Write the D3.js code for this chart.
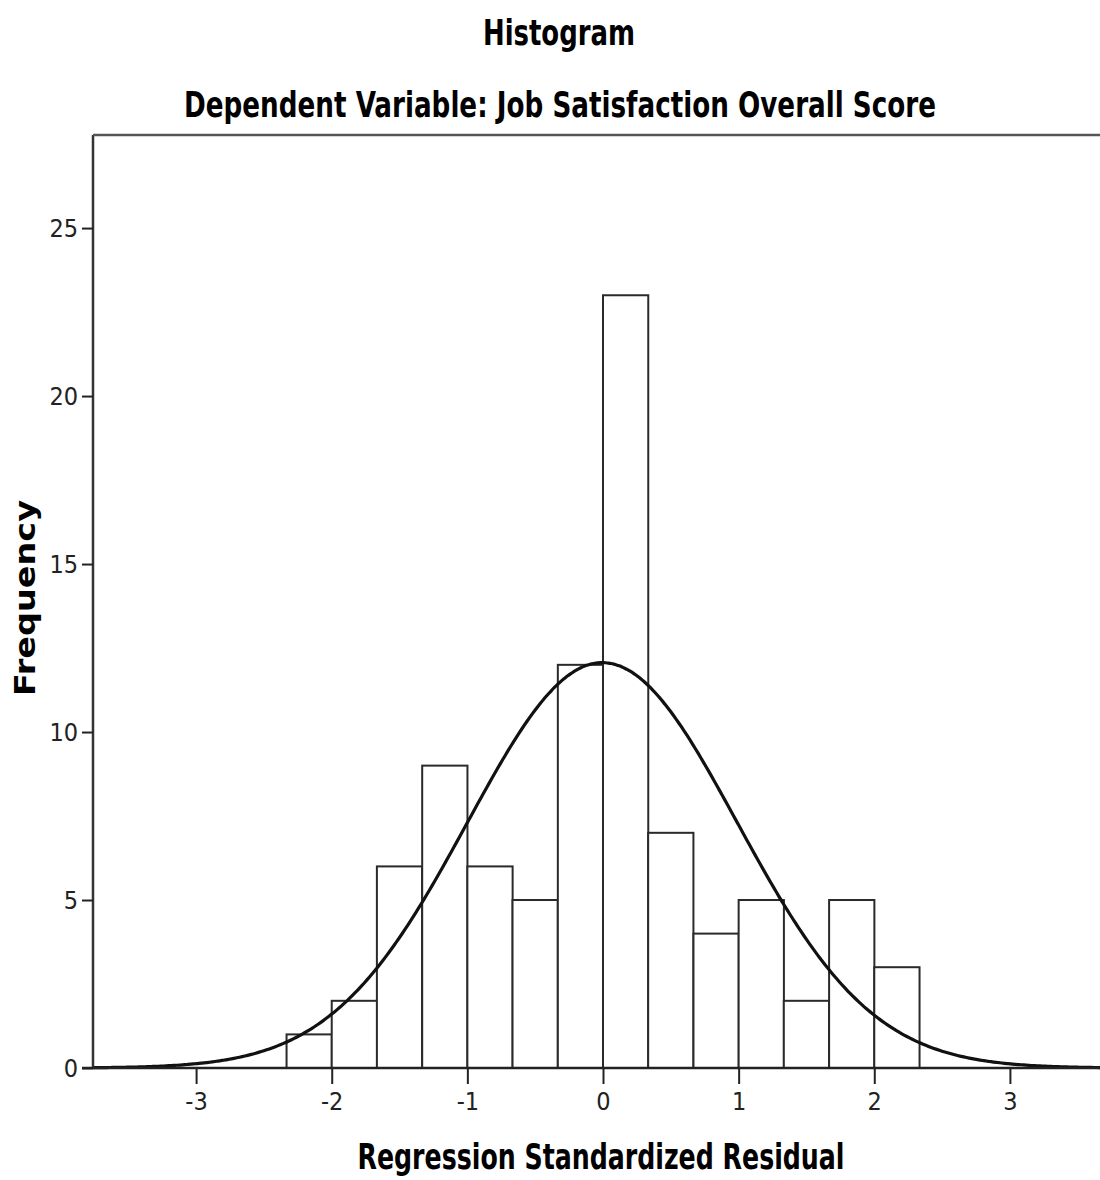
<!DOCTYPE html>
<html><head><meta charset="utf-8">
<script src="https://cdn.jsdelivr.net/npm/d3@7"></script>
<style>
html,body{margin:0;padding:0;background:#fff;overflow:hidden}
svg{display:block}
</style></head>
<body>
<svg id="chart" width="1100" height="1180"></svg>
<script>
// ---- data ----
const binStarts = [-2.333,-2.0,-1.667,-1.333,-1.0,-0.667,-0.333,0.0,0.333,0.667,1.0,1.333,1.667,2.0];
const binWidth = 0.3337;
const frequencies = [1,2,6,9,6,5,12,23,7,4,5,2,5,3];
const xTicks = [-3,-2,-1,0,1,2,3];
const yTicks = [0,5,10,15,20,25];
// fitted normal curve parameters (as reported by the chart)
const curveMean = -0.005;
const curveSd = 0.993;
const curveN = 90;

const titleText = "Histogram";
const subtitleText = "Dependent Variable: Job Satisfaction Overall Score";
const xTitle = "Regression Standardized Residual";
const yTitle = "Frequency";

// ---- layout ----
const svg = d3.select("#chart");
const pLeft = 93, pRight = 1113, pTop = 135, pBottom = 1068;
const x = d3.scaleLinear().domain([-3.76, 3.76]).range([pLeft, pRight]);
const y = d3.scaleLinear().domain([0, 27.77]).range([pBottom, pTop]);
const condensed = "'Liberation Sans Narrow','DejaVu Sans Condensed','Arial Narrow',sans-serif";

// titles
svg.append("text").attr("x", 559).attr("y", 45).attr("text-anchor","middle")
  .attr("font-family", condensed).attr("font-weight","bold").attr("font-size", 35)
  .attr("textLength", 152).attr("lengthAdjust","spacingAndGlyphs")
  .text(titleText);
svg.append("text").attr("x", 560).attr("y", 117).attr("text-anchor","middle")
  .attr("font-family", condensed).attr("font-weight","bold").attr("font-size", 35)
  .attr("textLength", 752).attr("lengthAdjust","spacingAndGlyphs")
  .text(subtitleText);

// bars
svg.append("g").selectAll("rect").data(frequencies).join("rect")
  .attr("x", (d,i) => x(binStarts[i]))
  .attr("width", (d,i) => x(binStarts[i] + binWidth) - x(binStarts[i]))
  .attr("y", d => y(d))
  .attr("height", d => y(0) - y(d))
  .attr("fill", "#fff").attr("stroke", "#2a2a2a").attr("stroke-width", 2);

// normal curve
const curvePts = d3.range(-3.76, 3.7601, 0.02).map(v => {
  const dens = Math.exp(-0.5 * Math.pow((v - curveMean)/curveSd, 2)) / (curveSd * Math.sqrt(2*Math.PI));
  return [v, dens * curveN * binWidth];
});
svg.append("path").datum(curvePts)
  .attr("d", d3.line().x(d => x(d[0])).y(d => y(d[1])).curve(d3.curveBasis))
  .attr("fill","none").attr("stroke","#111").attr("stroke-width",3.2);

// frame: left axis and top line
svg.append("line").attr("x1", pLeft).attr("x2", pLeft).attr("y1", pTop).attr("y2", pBottom)
  .attr("stroke","#333").attr("stroke-width",2.5);
svg.append("line").attr("x1", pLeft).attr("x2", pRight).attr("y1", pTop).attr("y2", pTop)
  .attr("stroke","#555").attr("stroke-width",2.5);

// x axis
const xAxis = d3.axisBottom(x).tickValues(xTicks).tickSize(16).tickSizeOuter(0).tickPadding(8)
  .tickFormat(d3.format("d"));
const gx = svg.append("g").attr("transform", `translate(0,${pBottom})`).call(xAxis);
gx.select(".domain").remove();
svg.append("line").attr("x1", 82).attr("x2", pRight).attr("y1", pBottom).attr("y2", pBottom)
  .attr("stroke","#222").attr("stroke-width",2.5);
gx.selectAll(".tick line").attr("stroke","#222").attr("stroke-width",2);
gx.selectAll(".tick text").attr("font-family", condensed).attr("font-size", 25).attr("fill","#222")
  .text(d => d < 0 ? "-" + Math.abs(d) : d);

// y axis
const yAxis = d3.axisLeft(y).tickValues(yTicks).tickSize(11).tickSizeOuter(0).tickPadding(4);
const gy = svg.append("g").attr("transform", `translate(${pLeft},0)`).call(yAxis);
gy.select(".domain").remove();
gy.selectAll(".tick line").attr("stroke","#222").attr("stroke-width",2);
gy.selectAll(".tick text").attr("font-family", condensed).attr("font-size", 25).attr("fill","#222");

// axis titles
svg.append("text").attr("x", 601).attr("y", 1169).attr("text-anchor","middle")
  .attr("font-family", condensed).attr("font-weight","bold").attr("font-size", 36)
  .attr("textLength", 487).attr("lengthAdjust","spacingAndGlyphs")
  .text(xTitle);
svg.append("text").attr("transform","translate(35,598) rotate(-90)").attr("text-anchor","middle")
  .attr("font-family","'DejaVu Sans',sans-serif").attr("font-weight","bold").attr("font-size", 28)
  .attr("textLength", 196).attr("lengthAdjust","spacingAndGlyphs")
  .text(yTitle);
</script>
</body></html>
